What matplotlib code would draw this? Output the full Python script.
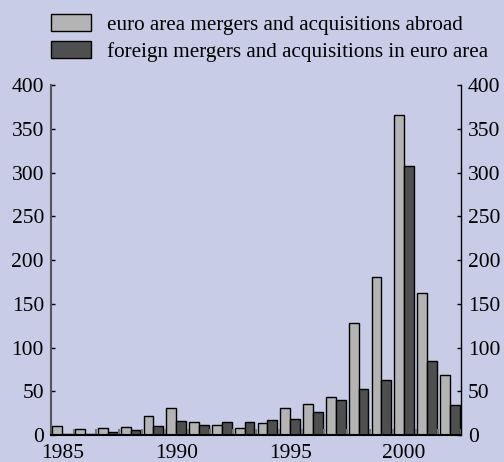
import matplotlib.pyplot as plt
import numpy as np
from matplotlib.ticker import MultipleLocator

years = np.arange(1985, 2003)
abroad = [11, 7.5, 8, 9, 22, 31, 15, 12, 8, 14.5, 31.5, 35.5, 44, 128, 181, 366, 162, 69]
inward = [1, 1, 3.5, 5.5, 11, 16, 12, 15.5, 15.5, 17, 19, 26, 40, 53, 63, 308, 85, 35]

bg = '#c8cce6'
plt.rcParams['font.family'] = 'Liberation Serif'

fig = plt.figure(figsize=(5.04, 4.62), dpi=100, facecolor=bg)
ax = fig.add_axes([0.101, 0.058, 0.814, 0.758], facecolor=bg)

w = 0.43
b1 = ax.bar(years - w, abroad, width=w, align='edge', color='#b4b4b4',
            edgecolor='black', linewidth=1.0)
b2 = ax.bar(years, inward, width=w, align='edge', color='#4f4f4f',
            edgecolor='black', linewidth=1.0)

ax.set_xlim(1984.5, 2002.5)
ax.set_ylim(0, 400)
ax.xaxis.set_major_locator(MultipleLocator(5))
ax.xaxis.set_minor_locator(MultipleLocator(1, offset=0.5))
ax.yaxis.set_major_locator(MultipleLocator(50))

ax.spines['top'].set_visible(False)
ax.spines['left'].set_color('#555555')
ax.spines['left'].set_linewidth(1.5)
ax.spines['right'].set_linewidth(1.0)
ax.spines['bottom'].set_linewidth(1.5)

ax.tick_params(axis='y', which='major', direction='in', length=3, width=1,
               labelsize=15.5, left=True, right=True, labelleft=True,
               labelright=True, pad=5)
ax.tick_params(axis='x', which='major', length=0, labelsize=15.5, pad=6)
ax.tick_params(axis='x', which='minor', direction='in', length=4, width=1.5,
               color='#777777')

fig.legend([b1, b2], ['euro area mergers and acquisitions abroad',
                      'foreign mergers and acquisitions in euro area'],
           loc='upper left', bbox_to_anchor=(0.084, 0.988), frameon=False,
           fontsize=15.2, handlelength=1.9, handleheight=0.85,
           labelspacing=0.3, handletextpad=0.75, borderaxespad=0)

fig.savefig('out.png', dpi=100, facecolor=bg)
